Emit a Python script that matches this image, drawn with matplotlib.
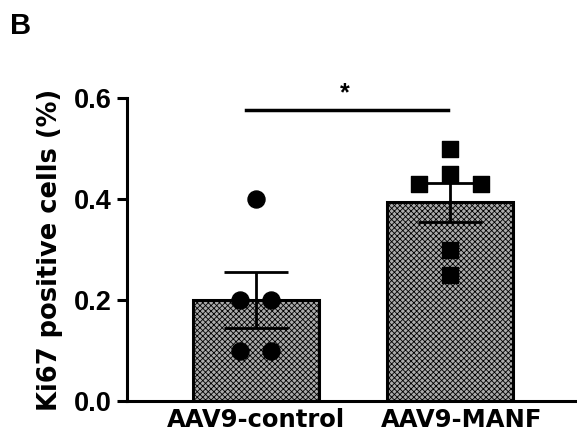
import numpy as np
import matplotlib
matplotlib.use("Agg")
import matplotlib.pyplot as plt
import matplotlib.transforms as mtransforms

plt.rcParams['font.family'] = ['Liberation Sans', 'DejaVu Sans']
plt.rcParams['hatch.linewidth'] = 0.6

groups = ['AAV9-control', 'AAV9-MANF']
# individual points (value, horizontal offset)
control_vals = [0.40, 0.20, 0.20, 0.10, 0.10]
control_offs = [0.0, -0.08, 0.08, -0.08, 0.08]
manf_vals = [0.50, 0.45, 0.43, 0.43, 0.30, 0.25]
manf_offs = [0.0, 0.0, -0.16, 0.16, 0.0, 0.0]

means = [np.mean(control_vals), np.mean(manf_vals)]
sems = [np.std(control_vals, ddof=1) / np.sqrt(len(control_vals)),
        np.std(manf_vals, ddof=1) / np.sqrt(len(manf_vals))]

fig = plt.figure(figsize=(5.77, 4.42), dpi=100)
ax = fig.add_axes([0.22, 0.0928, 0.78, 0.6852])

x = np.arange(len(groups))
ax.bar(x, means, width=0.65, color='#ababab', edgecolor='black', linewidth=2.2,
       hatch='xxxxxx', zorder=2)
ax.errorbar(x, means, yerr=sems, fmt='none', ecolor='black', elinewidth=2.0,
            capsize=23, capthick=2.0, zorder=3)

ax.scatter(x[0] + np.array(control_offs), control_vals, s=150, marker='o',
           color='black', zorder=4, clip_on=False)
ax.scatter(x[1] + np.array(manf_offs), manf_vals, s=130, marker='s',
           color='black', zorder=4, clip_on=False)

# significance bar
ax.plot([-0.05, 0.99], [0.576, 0.576], color='black', lw=2.5, clip_on=False)
ax.text(0.46, 0.585, '*', ha='center', va='bottom', fontsize=18, fontweight='bold',
        clip_on=False)

ax.set_xlim(-0.665, 1.655)
ax.set_ylim(0, 0.6)
ax.set_yticks([0.0, 0.2, 0.4, 0.6])
ax.set_yticklabels(['0.0', '0.2', '0.4', '0.6'])
ax.set_xticks(x)
ax.set_xticklabels(groups, family='DejaVu Sans', fontsize=17.5, fontweight='bold')
ax.tick_params(axis='y', length=7, width=2.2, labelsize=19.5, pad=4)
ax.tick_params(axis='x', length=0, pad=5)
# second label sits a little right of its bar in the original
lbl2 = ax.get_xticklabels()[1]
lbl2.set_transform(lbl2.get_transform() + mtransforms.ScaledTranslation(0.12, 0, fig.dpi_scale_trans))
for lbl in ax.get_yticklabels():
    lbl.set_fontweight('bold')
for s in ['top', 'right']:
    ax.spines[s].set_visible(False)
ax.spines['left'].set_linewidth(2.2)
ax.spines['bottom'].set_linewidth(2.2)
ax.set_ylabel('Ki67 positive cells (%)', family='DejaVu Sans', fontsize=18.5,
              fontweight='bold', labelpad=8)

fig.text(0.018, 0.972, 'B', fontsize=21, fontweight='bold', va='top', ha='left')

fig.savefig('out.png', dpi=100)
